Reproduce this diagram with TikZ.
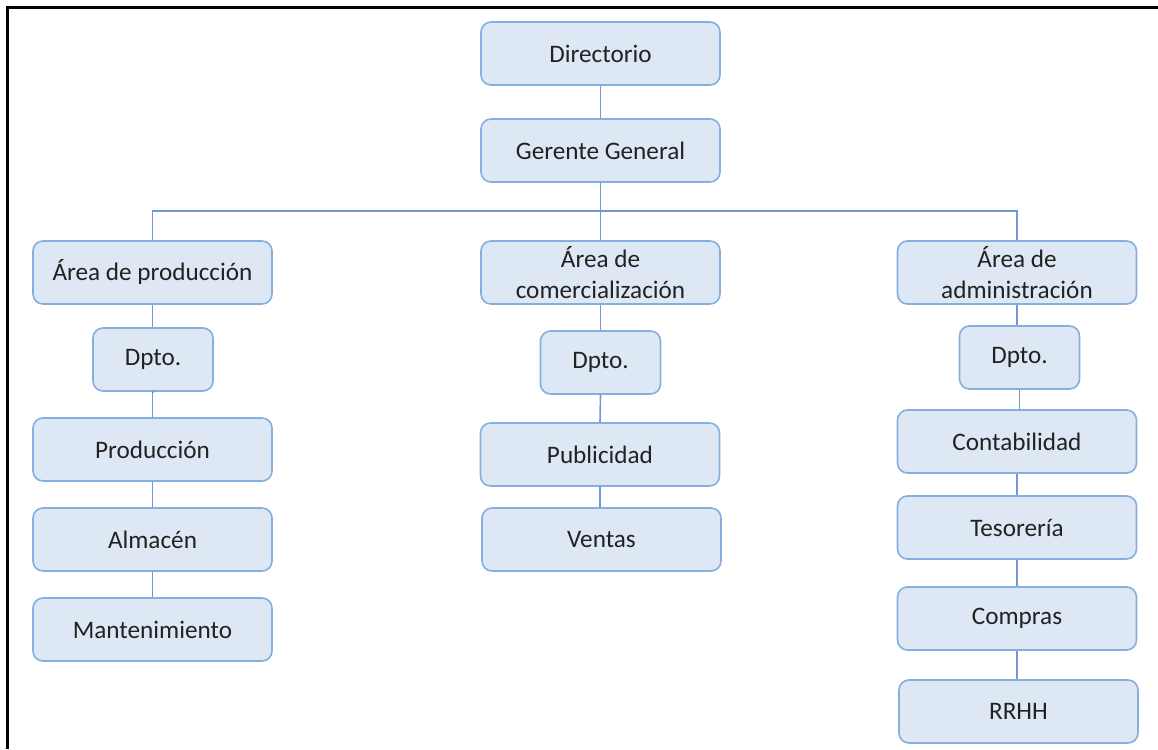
\documentclass[tikz,border=0pt]{standalone}
\usepackage{fontspec}
\setmainfont{Carlito}
\begin{document}
\begin{tikzpicture}[x=1pt,y=-1pt,
  box/.style={draw=boxline, fill=boxfill, line width=1.6pt, rounded corners=10pt,
    minimum width=239pt, minimum height=63pt, inner sep=0pt, align=center,
    text=txt, font=\fontsize{25.2}{31}\selectfont},
  small/.style={box, minimum width=120pt},
  conn/.style={draw=linec, line width=1.6pt}]
\definecolor{boxline}{HTML}{86AEDF}
\definecolor{boxfill}{HTML}{DEE8F4}
\definecolor{linec}{HTML}{7299D2}
\definecolor{txt}{HTML}{222222}
\useasboundingbox (0,0) rectangle (1158,749);
\fill[white] (0,0) rectangle (1158,749);
\draw[line width=2.5pt, black] (7.5,749) -- (7.5,7.5) -- (1158,7.5);

\node[box] (dir) at (600.5,53.5) {Directorio};
\node[box] (ger) at (600.5,150.5) {Gerente General};
\node[box] (prod) at (152.5,272.5) {Área de producción};
\node[box] (com) at (600.5,272.5) {Área de\\comercialización};
\node[box] (adm) at (1017,272.5) {Área de\\administración};

\node[small] (dp1) at (153,359.5) {Dpto.};
\node[small] (dp2) at (600.5,362.5) {Dpto.};
\node[small] (dp3) at (1019.5,357.5) {Dpto.};

\node[box] (pr) at (152.5,449.5) {Producción};
\node[box] (al) at (152.5,539.5) {Almacén};
\node[box] (ma) at (152.5,629.5) {Mantenimiento};

\node[box] (pu) at (600,454.5) {Publicidad};
\node[box] (ve) at (601.5,539.5) {Ventas};

\node[box] (co) at (1017,441.5) {Contabilidad};
\node[box] (te) at (1017,527.5) {Tesorería};
\node[box] (cp) at (1017,618.5) {Compras};
\node[box] (rr) at (1018.5,711.5) {RRHH};

\coordinate (bus) at (600.5,211);

\draw[conn] (dir.south) -- (ger.north);
\draw[conn] (ger.south) -- (bus);
\draw[conn] (prod.north) |- (bus) -| (adm.north);
\draw[conn] (bus) -- (com.north);
\draw[conn] (prod.south) -- (prod.south |- dp1.north);
\draw[conn] (dp1.south) -- (dp1.south -| pr.north) -- (pr.north);
\draw[conn] (pr.south) -- (al.north);
\draw[conn] (al.south) -- (ma.north);
\draw[conn] (com.south) -- (dp2.north);
\draw[conn] (dp2.south) -- (pu.north);
\draw[conn] (pu.south) -- (pu.south |- ve.north);
\draw[conn] (adm.south) -- (adm.south |- dp3.north);
\draw[conn] (dp3.south) -- (dp3.south |- co.north);
\draw[conn] (co.south) -- (te.north);
\draw[conn] (te.south) -- (cp.north);
\draw[conn] (cp.south) -- (cp.south |- rr.north);
\end{tikzpicture}
\end{document}
